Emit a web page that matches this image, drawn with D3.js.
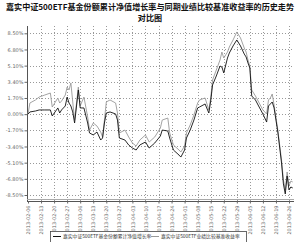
<!DOCTYPE html>
<html>
<head>
<meta charset="utf-8">
<script src="https://cdn.jsdelivr.net/npm/d3@7"></script>
<style>
  body { margin: 0; background: #fff; }
  svg { display: block; }
</style>
</head>
<body>
<div id="chart"></div>
<script>
// dates of the plotted points
const dates = [
  "2013-02-06","2013-02-07","2013-02-10","2013-02-12","2013-02-15","2013-02-18","2013-02-19","2013-02-22",
  "2013-02-23","2013-02-24","2013-02-26","2013-02-27","2013-02-28","2013-03-01","2013-03-02","2013-03-03",
  "2013-03-05","2013-03-06","2013-03-08","2013-03-10","2013-03-11","2013-03-13","2013-03-15","2013-03-17",
  "2013-03-18","2013-03-19","2013-03-20","2013-03-22","2013-03-25","2013-03-26","2013-03-27","2013-03-30",
  "2013-04-01","2013-04-03","2013-04-05","2013-04-07","2013-04-10","2013-04-12","2013-04-15","2013-04-18",
  "2013-04-19","2013-04-22","2013-04-23","2013-04-25","2013-04-28","2013-04-29","2013-05-01","2013-05-02",
  "2013-05-04","2013-05-06","2013-05-08","2013-05-09","2013-05-12","2013-05-14","2013-05-15","2013-05-16",
  "2013-05-18","2013-05-20","2013-05-21","2013-05-22","2013-05-24","2013-05-25","2013-05-27","2013-05-29",
  "2013-05-31","2013-06-01","2013-06-02","2013-06-03","2013-06-04","2013-06-05","2013-06-06","2013-06-08",
  "2013-06-10","2013-06-12","2013-06-14","2013-06-15","2013-06-16","2013-06-17","2013-06-18","2013-06-20",
  "2013-06-22","2013-06-23","2013-06-24","2013-06-25","2013-06-26","2013-06-27","2013-06-28"
];

// fund cumulative NAV growth (%)
const fundValues = [
  0.00, 0.23, 0.33, 0.44, 0.44, 0.44, -0.19, 0.65,
  0.12, 0.44, 0.86, 1.80, 1.17, 0.86, 0.23, -0.93,
  2.54, 0.65, 0.65, -0.93, -1.98, -2.19, -1.88, -2.72,
  -2.51, -0.93, 0.12, 0.23, 0.02, -0.62, -2.51, -2.72,
  -3.24, -3.56, -3.77, -3.24, -2.93, -3.56, -3.03, -2.30,
  -1.67, -1.77, -2.51, -3.77, -4.30, -4.51, -3.77, -2.51,
  -1.67, -0.62, 0.65, 0.75, 1.07, 0.12, 1.38, 3.07,
  4.01, 5.06, 4.96, 4.33, 5.90, 6.43, 7.17, 7.80,
  7.17, 6.74, 6.32, 6.01, 5.38, 4.85, 1.91, 1.49,
  0.75, 0.02, -0.83, 0.86, 1.07, 1.28, 0.65, -1.88,
  -5.14, -7.34, -8.39, -6.50, -7.97, -7.66, -7.76
];

// benchmark return (%)
const benchValues = [
  0.00, 1.17, 1.49, 1.80, 2.01, 2.22, 0.75, 1.70,
  1.17, 1.38, 2.01, 2.85, 2.54, 3.28, 1.28, -0.62,
  2.85, 0.86, 1.80, -0.30, -1.67, -0.93, -1.25, -1.88,
  -2.40, -0.62, 1.28, 1.49, 1.17, 0.12, -1.98, -1.67,
  -2.40, -3.03, -3.35, -2.72, -2.19, -2.93, -2.40, -1.46,
  -0.62, -0.41, -1.98, -3.24, -3.77, -3.98, -3.35, -1.98,
  -1.14, -0.09, 1.17, 1.49, 1.70, 0.44, 1.70, 3.59,
  4.64, 5.69, 6.53, 5.90, 6.53, 7.06, 7.80, 8.64,
  8.01, 7.48, 6.95, 6.53, 5.69, 5.06, 2.54, 1.91,
  1.17, 0.44, 0.02, 1.49, 1.70, 2.12, 0.96, -1.67,
  -4.82, -6.92, -7.97, -6.08, -7.55, -7.03, -7.13
];

// axis tick labels
const xTickLabels = [
  "2013-02-06","2013-02-13","2013-02-20","2013-02-27","2013-03-06","2013-03-13","2013-03-20",
  "2013-03-27","2013-04-03","2013-04-10","2013-04-17","2013-04-24","2013-05-01","2013-05-08",
  "2013-05-15","2013-05-22","2013-05-29","2013-06-05","2013-06-12","2013-06-19","2013-06-26"
];
const yTicks = [8.5, 6.8, 5.1, 3.4, 1.7, 0, -1.7, -3.4, -5.1, -6.8, -8.5];

const seriesNames = ["嘉实中证500ETF基金份额累计净值增长率", "嘉实中证500ETF业绩比较基准收益率"];
const titleLines = ["嘉实中证500ETF基金份额累计净值增长率与同期业绩比较基准收益率的历史走势", "对比图"];

const W = 300, H = 242;
const plot = { left: 27, right: 294, top: 26, bottom: 201 };
const parse = d3.timeParse("%Y-%m-%d");

const svg = d3.select("#chart").append("svg")
  .attr("width", W)
  .attr("height", H);

const x = d3.scaleTime()
  .domain([parse("2013-02-06"), parse("2013-06-26")])
  .range([28, 289]);

const y = d3.scaleLinear()
  .domain([-8.5, 8.5])
  .range([195, 33.3]);

// title
svg.selectAll("text.title")
  .data(titleLines)
  .enter()
  .append("text")
  .attr("class", "title")
  .attr("x", W / 2)
  .attr("y", (d, i) => 10 + i * 10.5)
  .attr("text-anchor", "middle")
  .attr("font-family", "'Noto Sans CJK SC', sans-serif")
  .attr("font-weight", "bold")
  .attr("font-size", 8.1)
  .attr("fill", "#111")
  .text(d => d);

// grid
svg.append("g")
  .selectAll("line")
  .data(yTicks)
  .enter()
  .append("line")
  .attr("x1", plot.left)
  .attr("x2", plot.right)
  .attr("y1", d => Math.round(y(d)) + 0.5)
  .attr("y2", d => Math.round(y(d)) + 0.5)
  .attr("stroke", "#999")
  .attr("stroke-dasharray", "1,2");

svg.append("g")
  .selectAll("line")
  .data(xTickLabels.slice(1))
  .enter()
  .append("line")
  .attr("x1", d => Math.round(x(parse(d))) + 0.5)
  .attr("x2", d => Math.round(x(parse(d))) + 0.5)
  .attr("y1", plot.top)
  .attr("y2", plot.bottom)
  .attr("stroke", "#999")
  .attr("stroke-dasharray", "1,2");

// y axis
const yAxis = svg.append("g")
  .attr("transform", `translate(${plot.left + 0.5},0)`)
  .call(d3.axisLeft(y).tickValues(yTicks).tickSize(3).tickPadding(1)
    .tickFormat(d => d.toFixed(2) + "%"));
yAxis.select(".domain").remove();
yAxis.selectAll("line").attr("stroke", "#666");
yAxis.selectAll("text")
  .attr("font-family", "'DejaVu Sans', sans-serif")
  .attr("font-size", 5)
  .attr("fill", "#666");

svg.append("line")
  .attr("x1", plot.left + 0.5).attr("x2", plot.left + 0.5)
  .attr("y1", plot.top).attr("y2", plot.bottom)
  .attr("stroke", "#555");

// x axis
const xAxis = svg.append("g")
  .attr("transform", `translate(0,${plot.bottom + 0.5})`)
  .call(d3.axisBottom(x).tickValues(xTickLabels.map(parse)).tickSize(2).tickPadding(2)
    .tickFormat(d3.timeFormat("%Y-%m-%d")));
xAxis.select(".domain")
  .attr("d", `M${plot.left},0H${plot.right}`)
  .attr("stroke", "#555");
xAxis.selectAll("line").attr("stroke", "#666");
xAxis.selectAll("text")
  .attr("transform", "rotate(-90)")
  .attr("text-anchor", "end")
  .attr("dy", "0.32em")
  .attr("x", -4)
  .attr("y", 0)
  .attr("font-family", "'DejaVu Sans', sans-serif")
  .attr("font-size", 5)
  .attr("fill", "#666");

svg.append("line")
  .attr("x1", plot.left).attr("x2", plot.right)
  .attr("y1", plot.bottom - 1.5).attr("y2", plot.bottom - 1.5)
  .attr("stroke", "#aaa");

// lines
const points = dates.map((d, i) => ({ date: parse(d), fund: fundValues[i], bench: benchValues[i] }));

const benchLine = d3.line().x(d => x(d.date)).y(d => y(d.bench));
const fundLine = d3.line().x(d => x(d.date)).y(d => y(d.fund));

svg.append("path")
  .datum(points)
  .attr("d", benchLine)
  .attr("fill", "none")
  .attr("stroke", "#999")
  .attr("stroke-width", 0.9);

svg.append("path")
  .datum(points)
  .attr("d", fundLine)
  .attr("fill", "none")
  .attr("stroke", "#111")
  .attr("stroke-width", 0.9);

// legend
const legend = svg.append("g");
legend.append("rect")
  .attr("x", 50.5).attr("y", 231.5)
  .attr("width", 196).attr("height", 14)
  .attr("fill", "#fff")
  .attr("stroke", "#444")
  .attr("stroke-width", 0.8);

const legendColors = ["#111", "#999"];
const legendX = [53, 151];
seriesNames.forEach((name, i) => {
  legend.append("line")
    .attr("x1", legendX[i]).attr("x2", legendX[i] + 8)
    .attr("y1", 236.5).attr("y2", 236.5)
    .attr("stroke", legendColors[i]);
  legend.append("text")
    .attr("x", legendX[i] + 10)
    .attr("y", 238.3)
    .attr("font-family", "'Noto Sans CJK SC', sans-serif")
    .attr("font-size", 4.8)
    .attr("fill", "#333")
    .text(name);
});
</script>
</body>
</html>
